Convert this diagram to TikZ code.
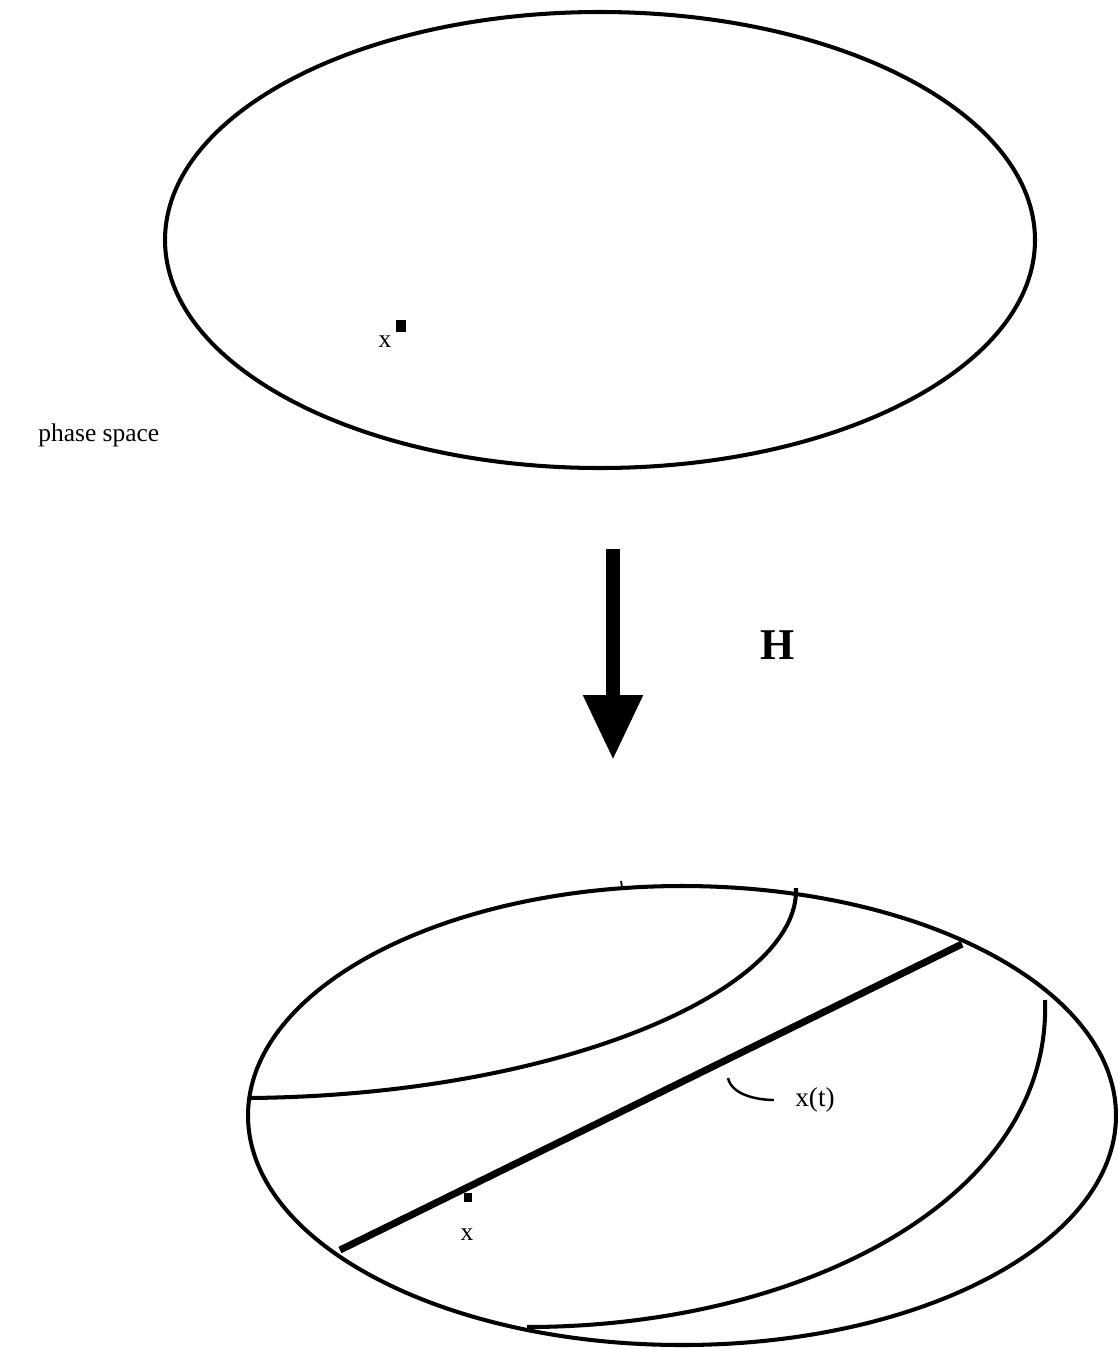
\documentclass[tikz,border=0pt]{standalone}
\usepackage{fontspec}
\setmainfont{Liberation Serif}
\usetikzlibrary{arrows.meta}

\tikzset{
  rim/.style={line width=2.3pt},
  orbit/.style={line width=2.3pt},
  flowline/.style={line width=4pt},
  lbl/.style={font=\fontsize{14.5}{17}\selectfont, inner sep=0pt},
}

\begin{document}
\begin{tikzpicture}[x=0.02cm,y=-0.02cm]
    \useasboundingbox (0,0) rectangle (1118,1349);
    % phase space before the map
    \draw[rim] (600,240) ellipse [x radius=435, y radius=228];
    \fill (396,320) rectangle (406,332);
    \node[lbl] (x0) at (385,342) {x};
    \node[lbl, anchor=west] (ps) at (38,435) {phase space};
    % the map H
    \coordinate (hs) at (613,549);
    \coordinate (he) at (613,760);
    \draw[line width=8pt, -{Triangle[length=37pt,width=32pt]}] (hs) -- (he);
    \node[font=\fontsize{25}{30}\selectfont\bfseries] (H) at (778,645) {H};
    % phase space after the map
    \draw[rim] (682,1115.5) ellipse [x radius=434, y radius=229.5];
    \draw[line width=1pt] (621,881) -- (622,887);
    \coordinate (a1) at (796,888);
    \coordinate (a2) at (250,1098);
    \draw[orbit] (a1) .. controls (800,990) and (560,1095) .. (a2);
    \coordinate (b1) at (1045,1000);
    \coordinate (b2) at (527,1327);
    \draw[orbit] (b1) .. controls (1052,1200) and (800,1327) .. (b2);
    \coordinate (f1) at (340,1250);
    \coordinate (f2) at (962,944);
    \draw[flowline] (f1) -- (f2);
    \fill (464,1193) rectangle (472,1202);
    \node[lbl] (x1) at (467,1235) {x};
    \node[lbl, font=\fontsize{15.5}{18}\selectfont, anchor=west] (xt) at (795,1100) {x(t)};
    \coordinate (c1) at (728,1078);
    \draw[line width=1.4pt] (c1) .. controls (732,1096) and (760,1100) .. ([xshift=-12]xt.west);
\end{tikzpicture}
\end{document}
